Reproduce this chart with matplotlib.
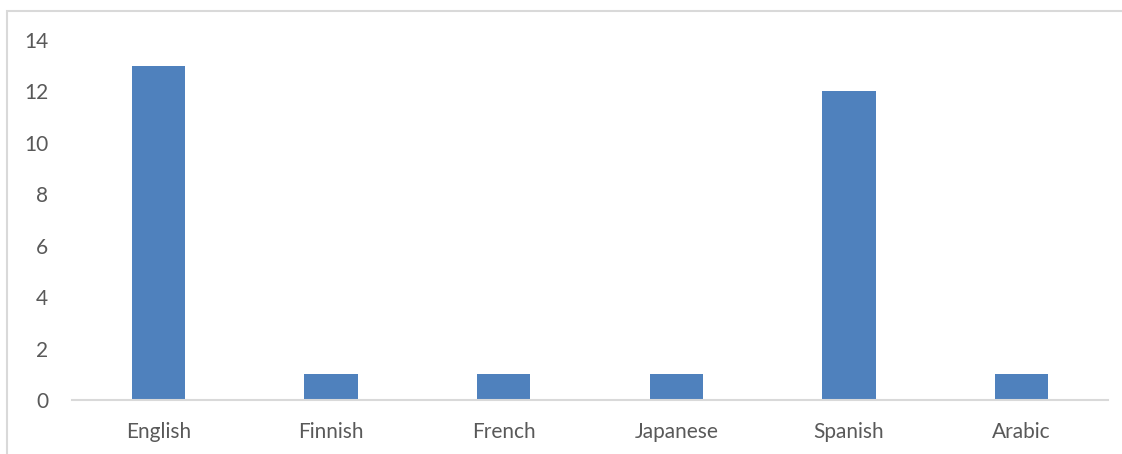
import matplotlib
matplotlib.use("Agg")
import matplotlib.pyplot as plt
from matplotlib.patches import Rectangle

languages = ["English", "Finnish", "French", "Japanese", "Spanish", "Arabic"]
counts = [13, 1, 1, 1, 12, 1]
yticks = [0, 2, 4, 6, 8, 10, 12, 14]

plt.rcParams['font.family'] = ['Lato', 'DejaVu Sans']

fig = plt.figure(figsize=(11.22, 4.54), dpi=100)
ax = fig.add_axes([72/1122, 1 - 400/454, (1108 - 72)/1122, (400 - 40)/454])

x = list(range(len(languages)))
ax.bar(x, counts, width=0.31, color="#4f81bd", zorder=2)
ax.set_xlim(-0.5, len(languages) - 0.5)
ax.set_ylim(0, 14)
ax.set_yticks(yticks)
ax.set_xticks(x)
ax.set_xticklabels(languages)

for s in ["top", "right", "left"]:
    ax.spines[s].set_visible(False)
ax.spines["bottom"].set_color("#d9d9d9")
ax.spines["bottom"].set_linewidth(1.5)
ax.tick_params(axis="both", length=0, labelsize=15, labelcolor="#595959")
ax.tick_params(axis="y", pad=17)
ax.tick_params(axis="x", pad=16)

frame = Rectangle((7/1122, -0.1), 1.2, 1 - 11/454 + 0.1, transform=fig.transFigure,
                  fill=False, edgecolor="#d9d9d9", linewidth=1.5)
fig.patches.append(frame)

fig.savefig("out.png", dpi=100)
